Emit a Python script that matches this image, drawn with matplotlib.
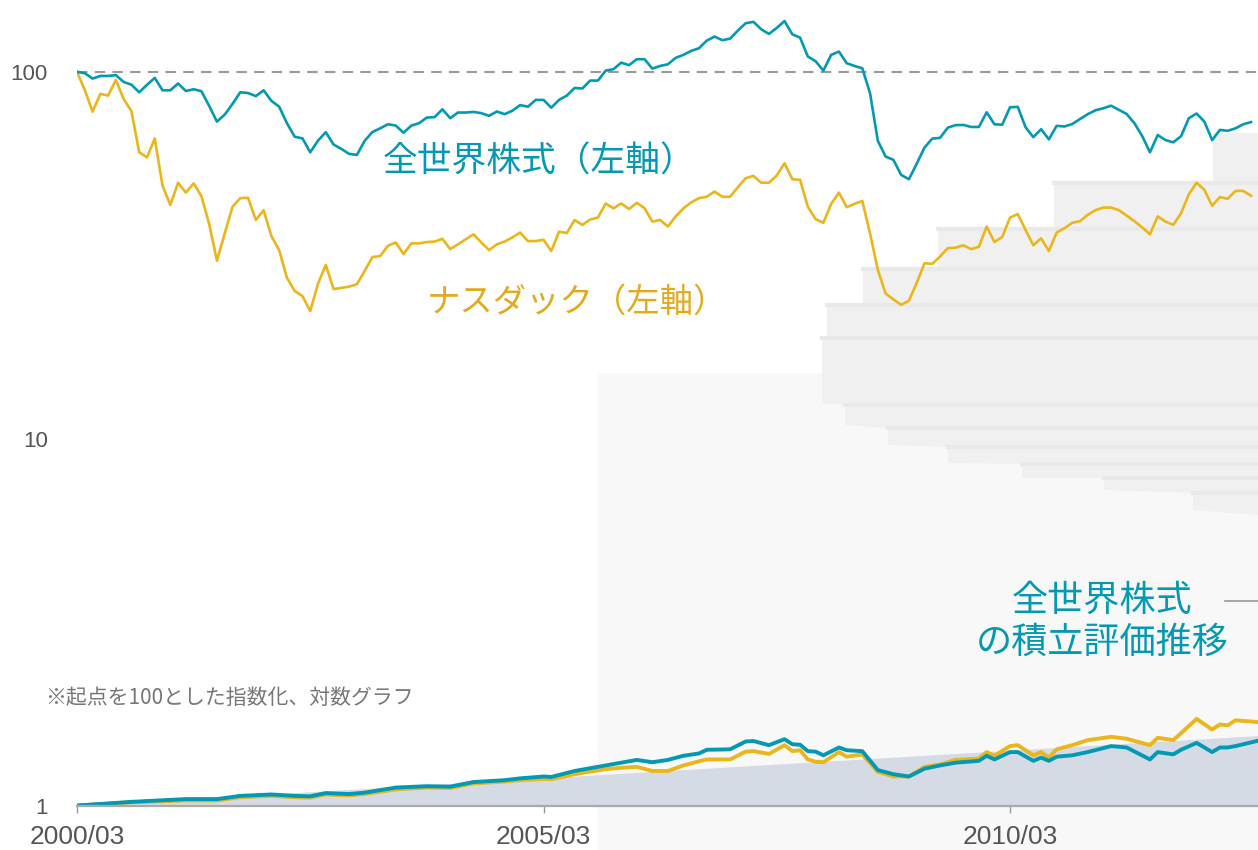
import numpy as np
import matplotlib.pyplot as plt
from matplotlib.patches import Polygon, Rectangle
from matplotlib.lines import Line2D
from matplotlib.ticker import NullLocator

W, H = 1258, 850

# monthly index, start 2000/03 = 100 (left axis, log)
world = [100, 99.2, 95.9, 97.5, 97.5, 98.0, 93.9, 92.3, 88.0, 92.2,
         96.3, 89.1, 89.1, 93.0, 88.7, 89.7, 88.6, 80.8, 73.2, 76.5,
         81.8, 88.0, 87.6, 85.9, 89.1, 83.4, 80.4, 72.5, 66.6, 65.9,
         60.4, 65.0, 68.5, 63.4, 61.7, 59.8, 59.4, 64.9, 68.6, 70.2,
         72.0, 71.4, 68.3, 71.4, 72.5, 75.1, 75.3, 79.1, 74.8, 77.5,
         77.5, 77.8, 77.2, 75.9, 78.0, 76.7, 78.4, 81.2, 80.4, 83.9,
         83.9, 79.9, 83.9, 86.2, 90.4, 90.1, 94.7, 94.7, 100.8, 101.7,
         106.0, 104.3, 108.3, 108.3, 102.1, 103.8, 104.9, 109.2, 111.3, 114.1,
         116.0, 121.7, 124.8, 122.0, 123.2, 129.6, 135.7, 136.9, 130.7, 126.9,
         131.8, 137.6, 126.6, 124.0, 110.1, 106.9, 100.8, 111.3, 113.6, 105.6,
         103.8, 102.3, 87.5, 64.9, 58.8, 57.6, 52.4, 51.0, 56.2, 62.2,
         65.8, 66.1, 70.5, 71.6, 71.7, 70.8, 70.8, 77.6, 72.0, 71.8,
         80.1, 80.3, 70.7, 66.4, 69.8, 65.5, 71.3, 71.0, 72.1, 74.4,
         76.7, 78.6, 79.6, 80.9, 78.8, 76.8, 72.5, 66.9, 60.4, 67.3,
         65.2, 64.3, 66.8, 74.8, 77.0, 73.2, 65.2, 69.5, 69.1, 70.2,
         72.0, 73.0]

nasdaq = [100, 89.3, 77.9, 87.1, 86.2, 95.1, 84.3, 78.2, 60.4, 58.5,
          65.8, 49.0, 43.4, 49.9, 46.9, 49.7, 45.9, 38.5, 30.6, 36.3,
          42.9, 45.3, 45.4, 39.5, 42.0, 35.7, 32.7, 27.5, 25.3, 24.5,
          22.3, 26.5, 29.8, 25.6, 25.8, 26.0, 26.4, 28.7, 31.3, 31.5,
          33.6, 34.3, 31.9, 34.1, 34.1, 34.4, 34.5, 35.1, 32.9, 33.9,
          35.0, 36.1, 34.3, 32.7, 33.9, 34.5, 35.4, 36.5, 34.6, 34.6,
          34.9, 32.5, 36.7, 36.4, 39.5, 38.3, 39.6, 40.1, 43.8, 42.5,
          43.8, 42.3, 44.0, 42.5, 39.1, 39.5, 37.9, 40.4, 42.5, 44.1,
          45.3, 45.7, 47.2, 45.7, 45.7, 48.5, 51.3, 52.1, 49.9, 49.9,
          52.2, 56.4, 51.0, 50.8, 42.9, 39.7, 38.8, 43.7, 46.9, 42.8,
          43.7, 44.5, 36.3, 28.9, 24.9, 24.0, 23.2, 23.8, 26.6, 30.1,
          30.0, 31.4, 33.1, 33.2, 33.7, 32.9, 33.4, 37.9, 34.4, 35.5,
          40.1, 41.0, 37.1, 33.7, 35.2, 32.5, 36.5, 37.5, 38.8, 39.2,
          40.8, 42.0, 42.7, 42.7, 42.0, 40.6, 39.2, 37.7, 36.1, 40.4,
          39.1, 38.3, 41.2, 46.4, 49.9, 47.7, 43.2, 45.6, 45.1, 47.4,
          47.4, 46.0]

months = np.arange(len(world))

# accumulation (1 unit per month), right axis, linear
acc_months = [0, 7, 14, 18, 21, 25, 28, 30, 32, 35,
              37, 41, 45, 48, 51, 55, 57, 60, 61, 64,
              68, 70, 72, 74, 76, 78, 80, 81, 84, 86,
              87, 89, 91, 92, 93, 94, 95, 96, 98, 99,
              101, 103, 105, 107, 109, 111, 113, 116, 117, 118,
              120, 121, 123, 124, 125, 126, 128, 130, 133, 135,
              138, 139, 141, 142, 144, 146, 147, 148, 149, 152]
acc_world = [1, 9, 15, 15, 22, 25, 22, 21, 28, 26,
             29, 40, 43, 42, 52, 56, 60, 64, 63, 76,
             88, 94, 100, 95, 100, 109, 114, 122, 123, 140,
             141, 132, 145, 134, 133, 119, 118, 110, 127, 121,
             119, 78, 69, 64, 81, 88, 94, 98, 109, 101,
             117, 117, 98, 105, 98, 107, 110, 117, 130, 127,
             101, 117, 112, 122, 137, 117, 127, 127, 130, 142]
acc_nasdaq = [1, 8, 12, 12, 19, 22, 19, 18, 25, 23,
              26, 36, 40, 39, 49, 53, 56, 59, 58, 69,
              80, 83, 85, 76, 76, 88, 97, 101, 101, 118,
              119, 113, 132, 119, 121, 101, 96, 95, 117, 107,
              112, 74, 64, 64, 85, 90, 100, 103, 117, 109,
              130, 132, 110, 117, 105, 123, 132, 143, 150, 146,
              132, 148, 143, 158, 189, 166, 177, 175, 186, 182]
invest_months = [0, 152]
invest_total = [1, 153]

tick_months = [0, 60, 120]
tick_labels = ['2000/03', '2005/03', '2010/03']

teal = '#0399b2'
gold = '#ebb51c'

plt.rcParams['font.family'] = ['Liberation Sans', 'Noto Sans CJK JP']
jp = ['Noto Sans CJK JP', 'DejaVu Sans']

fig = plt.figure(figsize=(W / 100, H / 100), dpi=100)


def fx(x):
    return x / W


def fy(y):
    return 1 - y / H


# faint background panels (behind the axes)
fig.patches.append(Rectangle((fx(597), 0), 1 - fx(597), fy(373), transform=fig.transFigure,
                             facecolor='#f8f8f8', edgecolor='none', zorder=-3))
stairs = [(1213, 133), (1258, 133), (1258, 515), (1193, 510), (1193, 493), (1104, 490),
          (1104, 478), (1022, 478), (1022, 464), (948, 463), (948, 447), (888, 445),
          (888, 428), (845, 425), (845, 405), (822, 403), (822, 338), (827, 338),
          (827, 305), (863, 305), (863, 269), (938, 269), (938, 229), (1054, 229),
          (1054, 183), (1213, 183)]
fig.patches.append(Polygon([(fx(x), fy(y)) for x, y in stairs], closed=True,
                           transform=fig.transFigure, facecolor='#f0f0f0',
                           edgecolor='none', zorder=-2))
for x, y in [(1054, 183), (938, 229), (863, 269), (827, 305), (822, 338), (845, 405),
             (888, 428), (948, 447), (1022, 464), (1104, 478), (1193, 493)]:
    fig.add_artist(Line2D([fx(x), 1], [fy(y), fy(y)], color='#e9e9e9', lw=3, zorder=-1))

ax = fig.add_axes([fx(77), 1 - 806 / H, 1 - fx(77), 806 / H])
ax.patch.set_visible(False)
ax.set_yscale('log')
ax.set_ylim(1, 157)
ax.set_xlim(0, (W - 77) / 7.775)

ax.axhline(100, color='#9a9a9a', lw=1.5, dashes=(5, 3.5))
ax.plot(months, nasdaq, color=gold, lw=1.9)
ax.plot(months, world, color=teal, lw=1.9)

ax.set_yticks([1, 10, 100])
ax.set_yticklabels(['1', '10', '100'])
ax.yaxis.set_minor_locator(NullLocator())
ax.set_xticks(tick_months)
ax.set_xticklabels(tick_labels)
ax.tick_params(axis='y', length=0, pad=21, labelsize=16, labelcolor='#555555')
ax.tick_params(axis='x', length=5, width=1, color='#999999', pad=8.5,
               labelsize=19, labelcolor='#555555')
for s in ax.spines.values():
    s.set_visible(False)

ax2 = ax.twinx()
ax2.set_ylim(0, 1749)
ax2.fill_between(invest_months, 0, invest_total, color='#d5dbe4', lw=0)
ax2.plot(acc_months, acc_nasdaq, color=gold, lw=2.8)
ax2.plot(acc_months, acc_world, color=teal, lw=2.8)
ax2.set_yticks([])
for k, s in ax2.spines.items():
    s.set_visible(k == 'bottom')
ax2.spines['bottom'].set_color('#aaaaaa')
ax2.spines['bottom'].set_linewidth(1.6)

fig.text(fx(383), fy(162), '全世界株式（左軸）', color=teal, fontsize=25,
         family=jp, ha='left', va='center')
fig.text(fx(427), fy(302), 'ナスダック（左軸）', color='#e2ab1e', fontsize=24,
         family=jp, ha='left', va='center')
fig.text(fx(45), fy(698), '※起点を100とした指数化、対数グラフ', color='#777777',
         fontsize=15, family=jp, ha='left', va='center')
fig.text(fx(1102), fy(622), '全世界株式\nの積立評価推移', color=teal, fontsize=26,
         family=jp, ha='center', va='center', linespacing=1.2, multialignment='center')
fig.add_artist(Line2D([fx(1225), 1], [fy(601), fy(601)], color='#999999', lw=1.2))

fig.savefig('out.png', dpi=100)
